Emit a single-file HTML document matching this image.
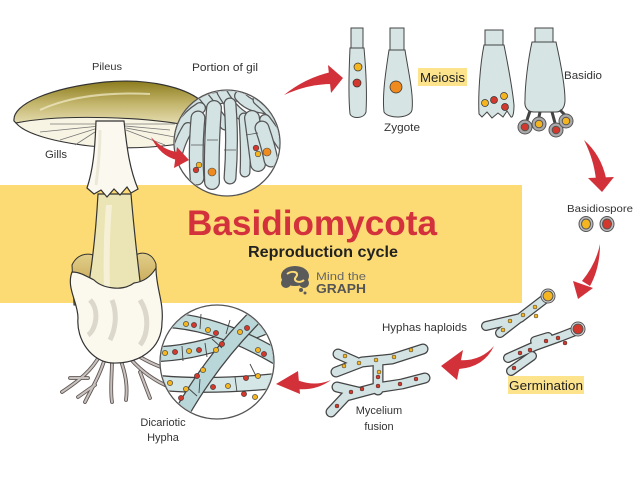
<!DOCTYPE html>
<html><head><meta charset="utf-8"><style>
html,body{margin:0;padding:0;background:#fff;}
svg{display:block;}
text{font-family:"Liberation Sans",Arial,sans-serif;}
</style></head><body>
<svg width="640" height="480" viewBox="0 0 640 480" xmlns="http://www.w3.org/2000/svg">
<defs>
<linearGradient id="cap" x1="0" y1="0" x2="0" y2="1">
<stop offset="0" stop-color="#8c7c1e"/><stop offset="0.45" stop-color="#c2b46a"/><stop offset="1" stop-color="#efe9c6"/>
</linearGradient>
<linearGradient id="cup" x1="0" y1="0" x2="0" y2="1">
<stop offset="0" stop-color="#e2cf8a"/><stop offset="1" stop-color="#b8913a"/>
</linearGradient>
<clipPath id="gc"><circle cx="227" cy="143" r="52"/></clipPath>
<clipPath id="hc"><circle cx="217" cy="362" r="56"/></clipPath>
</defs>
<rect width="640" height="480" fill="#fff"/>
<!-- yellow band -->
<rect x="0" y="185" width="522" height="118" fill="#fddb74"/>

<!-- roots -->
<g fill="none" stroke-linecap="round">
<g stroke="#5f5856" stroke-width="3.8">
<path d="M100,355 C92,370 80,380 62,392"/><path d="M88,378 L70,378"/><path d="M105,358 C100,375 92,388 85,402"/><path d="M112,360 C112,375 110,390 112,402"/><path d="M120,358 C125,372 128,385 126,400"/><path d="M128,356 C138,368 150,378 165,385"/><path d="M135,354 C148,362 160,368 172,370"/><path d="M95,385 L78,397"/><path d="M140,372 L150,398"/>
</g>
<g stroke="#c9c1be" stroke-width="2">
<path d="M100,355 C92,370 80,380 62,392"/><path d="M88,378 L70,378"/><path d="M105,358 C100,375 92,388 85,402"/><path d="M112,360 C112,375 110,390 112,402"/><path d="M120,358 C125,372 128,385 126,400"/><path d="M128,356 C138,368 150,378 165,385"/><path d="M135,354 C148,362 160,368 172,370"/><path d="M95,385 L78,397"/><path d="M140,372 L150,398"/>
</g>
</g>

<!-- volva interior -->
<path d="M72,265 C78,252 92,252 98,258 L98,305 L74,305 Z" fill="url(#cup)" stroke="#333" stroke-width="1"/>
<path d="M132,258 C140,250 152,252 156,264 L156,305 L132,305 Z" fill="url(#cup)" stroke="#333" stroke-width="1"/>
<!-- lower stem -->
<path d="M98,194 C96,230 92,268 86,300 L100,310 L132,310 L142,298 C138,265 134,230 131,194 Z" fill="#ebe4b4" stroke="#333" stroke-width="1.2"/>
<path d="M106,205 C104,230 103,260 104,290 L110,290 C109,260 110,230 112,205 Z" fill="#f6f1d6"/>
<!-- volva front -->
<path d="M72,272 C66,288 78,302 78,318 C76,340 92,362 112,363 C138,364 162,350 162,322 C164,302 156,288 156,268 C150,278 142,282 134,283 C122,292 102,288 94,280 C86,276 80,272 72,272 Z" fill="#fbf9ee" stroke="#333" stroke-width="1.2"/>
<path d="M90,300 C100,310 96,330 88,335 M140,300 C150,315 148,335 140,345 M112,300 C118,315 115,330 110,340" fill="none" stroke="#ddd8cc" stroke-width="5"/>

<!-- cap -->
<path d="M14,121 C12,104 50,88 105,82 C150,78 185,88 200,100 L200,130 C150,118 70,114 16,123 Z" fill="url(#cap)" stroke="#333" stroke-width="1.2"/>
<path d="M40,110 C70,96 110,92 150,94" fill="none" stroke="#f2eccb" stroke-width="2" opacity="0.7"/>
<path d="M16,123 C60,114 150,116 200,128 L200,140 C170,147 130,150 90,146 C55,142 25,134 16,123 Z" fill="#f8f4e4" stroke="#333" stroke-width="1.1"/>
<g stroke="#777" stroke-width="0.8" fill="none">
<path d="M100,126 L40,132"/><path d="M98,128 L60,140"/><path d="M98,130 L75,145"/><path d="M125,126 L170,130"/><path d="M126,128 L180,138"/><path d="M126,130 L165,145"/><path d="M100,124 L50,124"/><path d="M124,124 L175,124"/>
</g>
<!-- upper stem / ring -->
<path d="M96,121 L124,121 C127,150 130,170 138,189 L131,193 L127,187 L120,195 L114,189 L107,197 L101,190 L94,194 L87,188 C93,170 95,150 96,121 Z" fill="#fbf9ef" stroke="#333" stroke-width="1.2"/>
<path d="M100,130 C100,150 98,170 96,185" fill="none" stroke="#ece8d8" stroke-width="3"/>

<!-- gil circle -->
<circle cx="227" cy="143" r="53" fill="#fff" stroke="#555" stroke-width="1.3"/>
<g clip-path="url(#gc)" fill="none" stroke-linecap="round" stroke-linejoin="round">
<g><path d="M178,112 L205,100 L238,95" stroke="#555" stroke-width="13"/><path d="M178,112 L205,100 L238,95" stroke="#d3e3e4" stroke-width="10.5"/></g>
<g><path d="M200,92 Q215,110 225,125" stroke="#555" stroke-width="11"/><path d="M200,92 Q215,110 225,125" stroke="#d3e3e4" stroke-width="8.5"/></g>
<g><path d="M222,92 Q232,110 246,118" stroke="#555" stroke-width="11"/><path d="M222,92 Q232,110 246,118" stroke="#d3e3e4" stroke-width="8.5"/></g>
<g><path d="M240,96 Q248,106 264,108" stroke="#555" stroke-width="12"/><path d="M240,96 Q248,106 264,108" stroke="#d3e3e4" stroke-width="9.5"/></g>
<g><path d="M258,100 Q272,112 282,126" stroke="#555" stroke-width="11"/><path d="M258,100 Q272,112 282,126" stroke="#d3e3e4" stroke-width="8.5"/></g>
<g><path d="M176,136 Q184,118 200,108" stroke="#555" stroke-width="12"/><path d="M176,136 Q184,118 200,108" stroke="#d3e3e4" stroke-width="9.5"/></g>
<g><path d="M175,162 Q179,142 188,128" stroke="#555" stroke-width="12"/><path d="M175,162 Q179,142 188,128" stroke="#d3e3e4" stroke-width="9.5"/></g>
<g><path d="M265,120 Q280,140 292,160" stroke="#555" stroke-width="12"/><path d="M265,120 Q280,140 292,160" stroke="#d3e3e4" stroke-width="9.5"/></g>
<g><path d="M198,118 Q195,150 197,178" stroke="#555" stroke-width="15"/><path d="M198,118 Q195,150 197,178" stroke="#d3e3e4" stroke-width="12.5"/></g>
<g><path d="M214,108 Q211,150 212,182" stroke="#555" stroke-width="16"/><path d="M214,108 Q211,150 212,182" stroke="#d3e3e4" stroke-width="13.5"/></g>
<g><path d="M230,104 Q233,140 230,178" stroke="#555" stroke-width="13"/><path d="M230,104 Q233,140 230,178" stroke="#d3e3e4" stroke-width="10.5"/></g>
<g><path d="M244,118 Q246,150 245,172" stroke="#555" stroke-width="11"/><path d="M244,118 Q246,150 245,172" stroke="#d3e3e4" stroke-width="8.5"/></g>
<g><path d="M252,118 Q255,140 258,164" stroke="#555" stroke-width="16"/><path d="M252,118 Q255,140 258,164" stroke="#d3e3e4" stroke-width="13.5"/></g>
<g><path d="M262,128 Q268,145 271,160" stroke="#555" stroke-width="15"/><path d="M262,128 Q268,145 271,160" stroke="#d3e3e4" stroke-width="12.5"/></g>
</g>
<g stroke="#555" stroke-width="0.8" fill="none">
<path d="M207,140 L218,140 M224,150 L236,150 M246,135 L258,133 M191,145 L204,145"/>
</g>
<g stroke="#444" stroke-width="0.6">
<circle cx="196" cy="170" r="2.8" fill="#d2382b"/><circle cx="199" cy="165" r="2.8" fill="#f5b520"/>
<circle cx="212" cy="172" r="4" fill="#ef8a1e"/>
<circle cx="256" cy="148" r="2.8" fill="#d2382b"/><circle cx="258" cy="154" r="2.8" fill="#f5b520"/>
<circle cx="267" cy="152" r="4" fill="#ef8a1e"/>
</g>

<!-- hypha circle -->
<circle cx="217" cy="362" r="57" fill="#fff" stroke="#555" stroke-width="1.3"/>
<g clip-path="url(#hc)" fill="none" stroke-linejoin="round">
<g><path d="M160,383 Q215,388 285,380" stroke="#444" stroke-width="16"/><path d="M160,383 Q215,388 285,380" stroke="#d5e6e6" stroke-width="13.5"/></g>
<g><path d="M160,354 Q210,352 285,318" stroke="#444" stroke-width="16"/><path d="M160,354 Q210,352 285,318" stroke="#c2dbdc" stroke-width="13.5"/></g>
<g><path d="M165,320 Q220,322 285,362" stroke="#444" stroke-width="16"/><path d="M165,320 Q220,322 285,362" stroke="#c2dbdc" stroke-width="13.5"/></g>
<g><path d="M175,425 Q210,360 262,310" stroke="#444" stroke-width="16"/><path d="M175,425 Q210,360 262,310" stroke="#b9d6d8" stroke-width="13.5"/></g>
<g stroke="#444" stroke-width="0.9">
<path d="M201,314 L200,329 M230,320 L226,334 M182,346 L183,361 M205,343 L207,357 M250,364 L256,376 M235,377 L237,392 M200,379 L199,393 M188,388 L197,396 M222,348 L212,339"/>
</g>
</g>
<g stroke="#333" stroke-width="0.6">
<circle cx="186" cy="324" r="2.6" fill="#f5b520"/><circle cx="194" cy="325" r="2.6" fill="#d2382b"/><circle cx="208" cy="330" r="2.6" fill="#f5b520"/><circle cx="216" cy="333" r="2.6" fill="#d2382b"/><circle cx="240" cy="332" r="2.6" fill="#f5b520"/><circle cx="247" cy="328" r="2.6" fill="#d2382b"/><circle cx="258" cy="350" r="2.6" fill="#f5b520"/><circle cx="264" cy="354" r="2.6" fill="#d2382b"/>
<circle cx="165" cy="353" r="2.6" fill="#f5b520"/><circle cx="175" cy="352" r="2.6" fill="#d2382b"/><circle cx="189" cy="351" r="2.6" fill="#f5b520"/><circle cx="199" cy="350" r="2.6" fill="#d2382b"/><circle cx="216" cy="350" r="2.6" fill="#f5b520"/><circle cx="222" cy="344" r="2.6" fill="#d2382b"/>
<circle cx="203" cy="370" r="2.6" fill="#f5b520"/><circle cx="197" cy="376" r="2.6" fill="#d2382b"/><circle cx="186" cy="389" r="2.6" fill="#f5b520"/><circle cx="181" cy="398" r="2.6" fill="#d2382b"/>
<circle cx="170" cy="383" r="2.6" fill="#f5b520"/><circle cx="213" cy="387" r="2.6" fill="#d2382b"/><circle cx="228" cy="386" r="2.6" fill="#f5b520"/><circle cx="246" cy="378" r="2.6" fill="#d2382b"/><circle cx="258" cy="376" r="2.6" fill="#f5b520"/><circle cx="244" cy="394" r="2.6" fill="#d2382b"/><circle cx="255" cy="397" r="2.6" fill="#f5b520"/>
</g>

<!-- zygote / basidio cells -->
<g fill="#d6e4e4" stroke="#444" stroke-width="1">
<rect x="351" y="28" width="12" height="22"/>
<path d="M350,48 L364,48 C366,70 367,95 366,112 C364,119 352,119 350,114 C348,95 349,70 350,48 Z"/>
<rect x="390" y="28" width="14" height="22"/>
<path d="M389,50 L405,50 C408,70 414,95 412,110 C410,119 388,119 384,112 C382,95 386,70 389,50 Z"/>
<rect x="485" y="30" width="18" height="15"/>
<path d="M484,45 L504,45 C508,65 512,85 514,105 C514,112 513,118 511,117 L507,111 L503,117 L498,113 L492,118 L487,112 L482,117 L479,114 C478,95 480,65 484,45 Z"/>
<rect x="535" y="28" width="18" height="14"/>
<path d="M532,42 L556,42 C560,60 565,85 565,100 C565,108 561,112 556,112 L534,112 C528,112 524,108 525,100 C525,85 528,60 532,42 Z"/>
<path d="M530,111 L527,120 M540,112 L539,117 M552,112 L555,123 M560,110 L565,115" fill="none" stroke-width="3"/>
</g>
<g stroke="#333" stroke-width="0.7">
<circle cx="358" cy="67" r="4" fill="#f5b520"/><circle cx="357" cy="83" r="4" fill="#d2382b"/>
<circle cx="396" cy="87" r="6" fill="#ef8a1e"/>
<circle cx="485" cy="103" r="3.5" fill="#f5b520"/><circle cx="494" cy="100" r="3.5" fill="#d2382b"/><circle cx="504" cy="96" r="3.5" fill="#f5b520"/><circle cx="505" cy="107" r="3.5" fill="#d2382b"/>
</g>
<g stroke="#555" stroke-width="1">
<circle cx="525" cy="127" r="7" fill="#aaa"/><circle cx="525" cy="127" r="3.8" fill="#d2382b"/>
<circle cx="539" cy="124" r="7" fill="#aaa"/><circle cx="539" cy="124" r="3.8" fill="#f5b520"/>
<circle cx="556" cy="130" r="7" fill="#aaa"/><circle cx="556" cy="130" r="3.8" fill="#d2382b"/>
<circle cx="566" cy="121" r="7" fill="#aaa"/><circle cx="566" cy="121" r="3.8" fill="#f5b520"/>
<!-- basidiospores -->
<ellipse cx="586" cy="224" rx="7" ry="7.5" fill="#bbb"/><ellipse cx="586" cy="224" rx="4.5" ry="5" fill="#f5b520"/>
<ellipse cx="607" cy="224" rx="7" ry="7.5" fill="#bbb"/><ellipse cx="607" cy="224" rx="4.5" ry="5" fill="#d2382b"/>
</g>

<!-- germination hyphae -->
<g fill="none" stroke-linecap="round" stroke-linejoin="round">
<g stroke="#444" stroke-width="10"><path d="M486,326 L520,318 L546,298"/><path d="M500,333 L518,319"/><path d="M508,358 L535,346 L560,337 L578,330"/><path d="M511,371 L532,356"/><path d="M535,341 L548,337"/></g>
<g stroke="#d3e3e4" stroke-width="7.5"><path d="M486,326 L520,318 L546,298"/><path d="M500,333 L518,319"/><path d="M508,358 L535,346 L560,337 L578,330"/><path d="M511,371 L532,356"/><path d="M535,341 L548,337"/></g>
</g>
<g stroke="#333" stroke-width="0.5">
<circle cx="503" cy="330" r="2" fill="#f5b520"/><circle cx="510" cy="321" r="2" fill="#f5b520"/><circle cx="523" cy="315" r="2" fill="#f5b520"/><circle cx="535" cy="307" r="2" fill="#f5b520"/><circle cx="536" cy="316" r="2" fill="#f5b520"/>
<circle cx="514" cy="368" r="2" fill="#d2382b"/><circle cx="520" cy="353" r="2" fill="#d2382b"/><circle cx="530" cy="350" r="2" fill="#d2382b"/><circle cx="546" cy="341" r="2" fill="#d2382b"/><circle cx="558" cy="338" r="2" fill="#d2382b"/><circle cx="565" cy="343" r="2" fill="#d2382b"/>
</g>
<g stroke="#555" stroke-width="1">
<circle cx="548" cy="296" r="7" fill="#ddd"/><circle cx="548" cy="296" r="5" fill="#f5b520"/>
<circle cx="578" cy="329" r="7" fill="#ddd"/><circle cx="578" cy="329" r="5" fill="#d2382b"/>
</g>

<!-- mycelium fusion -->
<g fill="none" stroke-linecap="round" stroke-linejoin="round">
<g stroke="#444" stroke-width="11"><path d="M336,372 L362,362 L392,359 L423,349"/><path d="M338,354 L356,362"/><path d="M331,412 L346,396 L376,388 L402,384 L425,378"/><path d="M337,387 L358,392"/><path d="M378,362 L378,390"/></g>
<g stroke="#d3e3e4" stroke-width="8.5"><path d="M336,372 L362,362 L392,359 L423,349"/><path d="M338,354 L356,362"/><path d="M331,412 L346,396 L376,388 L402,384 L425,378"/><path d="M337,387 L358,392"/><path d="M378,362 L378,390"/></g>
</g>
<g stroke="#333" stroke-width="0.5">
<circle cx="344" cy="366" r="2" fill="#f5b520"/><circle cx="359" cy="363" r="2" fill="#f5b520"/><circle cx="376" cy="360" r="2" fill="#f5b520"/><circle cx="394" cy="357" r="2" fill="#f5b520"/><circle cx="411" cy="350" r="2" fill="#f5b520"/><circle cx="379" cy="372" r="2" fill="#f5b520"/><circle cx="345" cy="356" r="2" fill="#f5b520"/>
<circle cx="351" cy="392" r="2" fill="#d2382b"/><circle cx="362" cy="389" r="2" fill="#d2382b"/><circle cx="378" cy="386" r="2" fill="#d2382b"/><circle cx="400" cy="384" r="2" fill="#d2382b"/><circle cx="416" cy="379" r="2" fill="#d2382b"/><circle cx="337" cy="406" r="2" fill="#d2382b"/><circle cx="378" cy="377" r="2" fill="#d2382b"/>
</g>

<!-- red arrows -->
<g fill="#d3313a">
<path d="M284,95 Q305,78 331,72 L332,84 Q308,84 284,95 Z"/><path d="M343,78 L328,65 L331,93 Z"/>
<path d="M584,140 Q601,155 606,178 L596,180 Q594,160 584,140 Z"/><path d="M602,192 L588,178 L614,177 Z"/>
<path d="M600,244 Q600,268 590,286 L582,281 Q596,264 600,244 Z"/><path d="M578,299 L573,281 L593,288 Z"/>
<path d="M494,346 Q480,362 458,360 L459,369 Q484,367 494,346 Z"/><path d="M441,366 L463,350 L457,380 Z"/>
<path d="M331,380 Q315,387 297,380 L297,389 Q316,391 331,380 Z"/><path d="M276,384 L298,371 L300,394 Z"/>
<path d="M151,137 Q163,150 177,152 L177,160 Q160,156 151,137 Z"/><path d="M189,160 L177,147 L174,168 Z"/>
</g>

<!-- highlights -->
<rect x="418" y="68" width="49" height="18" fill="#fde48c"/>
<rect x="508" y="376" width="76" height="18" fill="#fde48c"/>

<!-- labels -->
<g fill="#333">
<text x="92" y="70" font-size="10.5" textLength="30" lengthAdjust="spacingAndGlyphs">Pileus</text>
<text x="192" y="71" font-size="11" textLength="66" lengthAdjust="spacingAndGlyphs">Portion of gil</text>
<text x="45" y="158" font-size="11" textLength="22" lengthAdjust="spacingAndGlyphs">Gills</text>
<text x="384" y="131" font-size="11" textLength="36" lengthAdjust="spacingAndGlyphs">Zygote</text>
<text x="420" y="82" font-size="13" fill="#222" textLength="45" lengthAdjust="spacingAndGlyphs">Meiosis</text>
<text x="564" y="79" font-size="11" textLength="38" lengthAdjust="spacingAndGlyphs">Basidio</text>
<text x="567" y="212" font-size="10.5" textLength="66" lengthAdjust="spacingAndGlyphs">Basidiospore</text>
<text x="382" y="331" font-size="11" textLength="85" lengthAdjust="spacingAndGlyphs">Hyphas haploids</text>
<text x="509" y="390" font-size="13" fill="#222" textLength="74" lengthAdjust="spacingAndGlyphs">Germination</text>
<text x="379" y="414" font-size="11" text-anchor="middle">Mycelium</text>
<text x="379" y="430" font-size="11" text-anchor="middle">fusion</text>
<text x="163" y="426" font-size="11" text-anchor="middle">Dicariotic</text>
<text x="163" y="441" font-size="11" text-anchor="middle">Hypha</text>
</g>

<!-- title -->
<text x="187" y="235" font-size="35" font-weight="bold" fill="#d3323c" textLength="250" lengthAdjust="spacingAndGlyphs">Basidiomycota</text>
<text x="248" y="257" font-size="16" font-weight="bold" fill="#222" textLength="150" lengthAdjust="spacingAndGlyphs">Reproduction cycle</text>
<!-- logo -->
<g fill="#5a5a5a">
<ellipse cx="295" cy="276" rx="14" ry="10"/>
<circle cx="286" cy="283" r="5"/><circle cx="304" cy="283" r="5"/>
<circle cx="301" cy="290" r="2"/><circle cx="305" cy="293" r="1.5"/>
</g>
<path d="M287,274 C292,270 300,272 296,277 C292,281 300,284 304,280" fill="none" stroke="#fddb74" stroke-width="2"/>
<text x="316" y="280" font-size="11" fill="#666" textLength="50" lengthAdjust="spacingAndGlyphs">Mind the</text>
<text x="316" y="293" font-size="12.5" font-weight="bold" fill="#555" textLength="50" lengthAdjust="spacingAndGlyphs">GRAPH</text>
</svg>
</body></html>
